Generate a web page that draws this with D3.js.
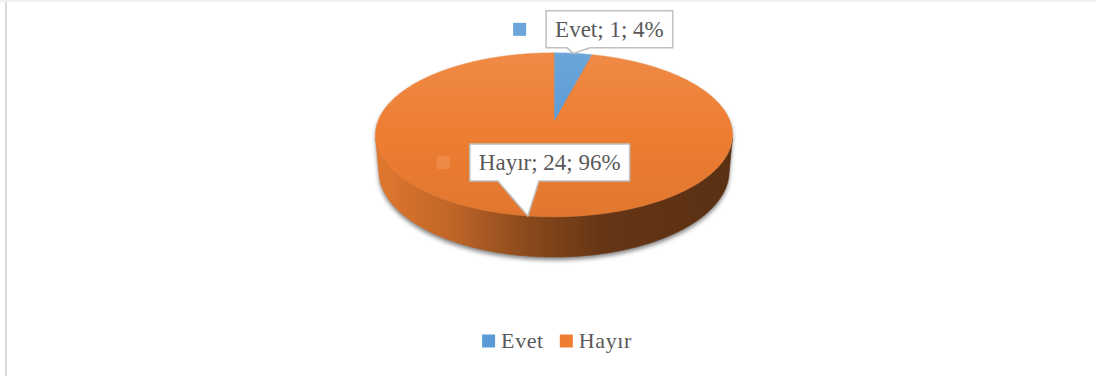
<!DOCTYPE html>
<html>
<head>
<meta charset="utf-8">
<script src="https://cdn.jsdelivr.net/npm/d3@7"></script>
<style>
  html, body { margin: 0; padding: 0; background: #fff; }
  svg { display: block; }
  text { font-family: "Liberation Serif", "Times New Roman", serif; fill: #595959; }
</style>
</head>
<body>
<svg id="chart" width="1096" height="376"></svg>
<script>
// Survey answers
const categories = ["Evet", "Hayır"];
const values = [1, 24];
const colors = ["#5B9BD5", "#ED7D31"];

const W = 1096, H = 376;
const svg = d3.select("#chart");
const defs = svg.append("defs");

// frame lines
svg.append("rect").attr("x", 0).attr("y", 0).attr("width", W).attr("height", 2).attr("fill", "#f1f1f1");
svg.append("rect").attr("x", 5).attr("y", 2).attr("width", 2).attr("height", H - 2).attr("fill", "#dadada");

// --- 3D pie projection (perspective view of a flat cylinder) ---
const cx = 554, cy = 122;           // screen position of the pie centre
const camDist = 5.69, focal = 1003;
const sinE = 0.4536, cosE = Math.sqrt(1 - sinE * sinE);
const depth = 0.232;                // cylinder thickness (radius = 1)

function project(a, r, z) {
  // a: angle clockwise from the back of the pie, r: radius, z: height
  const x = r * Math.sin(a), y = r * Math.cos(a);
  const up = z * cosE + y * sinE;
  const d = y * cosE - z * sinE;
  const k = focal / (camDist + d);
  return [cx + x * k, cy - up * k];
}

const total = d3.sum(values);
const pie = d3.pie().sort(null).value(d => d).startAngle(0).endAngle(2 * Math.PI);
const arcs = pie(values);

const step = Math.PI / 360;
function angles(a0, a1) {
  const n = Math.max(2, Math.ceil((a1 - a0) / step));
  return d3.range(n + 1).map(i => a0 + (a1 - a0) * i / n);
}
const line = d3.line().curve(d3.curveLinear);

// silhouette of the whole cylinder
const rimPts = [];
angles(0, 2 * Math.PI).forEach(a => { rimPts.push(project(a, 1, 0)); rimPts.push(project(a, 1, -depth)); });
const hull = d3.polygonHull(rimPts);
const xExt = d3.extent(hull, p => p[0]);
const yTop = project(0, 1, 0)[1], yFront = project(Math.PI, 1, 0)[1];

// soft shadow under the pie
const blur = defs.append("filter").attr("id", "shadowBlur")
  .attr("x", "-10%").attr("y", "-10%").attr("width", "120%").attr("height", "130%");
blur.append("feGaussianBlur").attr("stdDeviation", 2.2);
svg.append("path")
  .attr("d", line(hull) + "Z")
  .attr("transform", "translate(0,3)")
  .attr("fill", "#5a5a5a")
  .attr("opacity", 0.75)
  .attr("filter", "url(#shadowBlur)");

function shade(c, f) {
  const col = d3.rgb(c);
  return d3.rgb(col.r * f, col.g * f, col.b * f).formatHex();
}

// gradients per slice: side (horizontal shading) and top (vertical sheen)
arcs.forEach((d, i) => {
  const side = defs.append("linearGradient").attr("id", "side" + i)
    .attr("gradientUnits", "userSpaceOnUse")
    .attr("x1", xExt[0]).attr("x2", xExt[1]).attr("y1", 0).attr("y2", 0);
  [[0, 0.95], [0.2, 0.82], [0.43, 0.58], [0.63, 0.43], [1, 0.38]].forEach(s =>
    side.append("stop").attr("offset", s[0]).attr("stop-color", shade(colors[i], s[1])));

  const top = defs.append("linearGradient").attr("id", "top" + i)
    .attr("gradientUnits", "userSpaceOnUse")
    .attr("x1", 0).attr("x2", 0).attr("y1", yTop).attr("y2", yFront);
  top.append("stop").attr("offset", 0).attr("stop-color", d3.interpolateRgb(colors[i], "#fff")(0.1));
  top.append("stop").attr("offset", 0.5).attr("stop-color", colors[i]);
  top.append("stop").attr("offset", 1).attr("stop-color", shade(colors[i], 0.95));
});

// visible band of the side wall
const aVis = Math.acos(-1 / (camDist * cosE));
const visLo = aVis, visHi = 2 * Math.PI - aVis;

arcs.forEach((d, i) => {
  const a0 = Math.max(d.startAngle, visLo), a1 = Math.min(d.endAngle, visHi);
  if (a1 <= a0) return;
  const as = angles(a0, a1);
  const pts = as.map(a => project(a, 1, 0)).concat(as.slice().reverse().map(a => project(a, 1, -depth)));
  svg.append("path").attr("d", line(pts) + "Z").attr("fill", `url(#side${i})`)
    .attr("stroke", `url(#side${i})`).attr("stroke-width", 0.6);
});

// top faces
arcs.forEach((d, i) => {
  const pts = [project(0, 0, 0)].concat(angles(d.startAngle, d.endAngle).map(a => project(a, 1, 0)));
  svg.append("path").attr("d", line(pts) + "Z").attr("fill", `url(#top${i})`)
    .attr("stroke", `url(#top${i})`).attr("stroke-width", 0.5);
});

// --- data labels (callouts) ---
const labelFont = 23;
const boxOffset = [[-27, -5.5], [-58, -35]];   // box left / bottom relative to the callout tip
const tailBase = [[-6, 17], [-30, 11]];        // tail attachment on the box bottom edge
const boxH = 37, padX = 9;

arcs.forEach((d, i) => {
  const mid = (d.startAngle + d.endAngle) / 2;
  const tip = project(mid, 1, 0);
  const pct = Math.round(values[i] / total * 100);
  const label = `${categories[i]}; ${values[i]}; ${pct}%`;

  const g = svg.append("g");
  const txt = g.append("text").attr("font-size", labelFont).text(label);
  const tw = txt.node().getComputedTextLength();
  const left = tip[0] + boxOffset[i][0];
  const bottom = tip[1] + boxOffset[i][1];
  const right = left + tw + padX * 2;
  const top = bottom - boxH;
  const t0 = tip[0] + tailBase[i][0], t1 = tip[0] + tailBase[i][1];

  g.insert("path", "text")
    .attr("d", `M${left},${top}H${right}V${bottom}H${t1}L${tip[0]},${tip[1]}L${t0},${bottom}H${left}Z`)
    .attr("fill", "#fff").attr("stroke", "#bfbfbf").attr("stroke-width", 1.5);
  txt.attr("x", left + padX).attr("y", top + boxH / 2 + labelFont * 0.33);

  // legend key beside the label
  const ks = 13;
  g.append("rect")
    .attr("x", left - 33).attr("y", top + boxH / 2 - ks / 2)
    .attr("width", ks).attr("height", ks)
    .attr("fill", d3.interpolateRgb(colors[i], "#fff")(0.1));
});

// --- legend ---
const legendFont = 22, keySize = 13, legendY = 341, legendCenter = 557;
const lg = svg.append("g");
const items = categories.map((c, i) => {
  const t = lg.append("text").attr("font-size", legendFont).attr("letter-spacing", 0.6).text(c);
  return { t, w: t.node().getComputedTextLength(), i };
});
const itemW = items.map(it => keySize + 6 + it.w);
const gap = 16;
const totalW = d3.sum(itemW) + gap * (items.length - 1);
let x = legendCenter - totalW / 2;
items.forEach((it, k) => {
  lg.append("rect").attr("x", x).attr("y", legendY - keySize / 2)
    .attr("width", keySize).attr("height", keySize).attr("fill", colors[it.i]);
  it.t.attr("x", x + keySize + 6).attr("y", legendY + legendFont * 0.33);
  x += itemW[k] + gap;
});
</script>
</body>
</html>
